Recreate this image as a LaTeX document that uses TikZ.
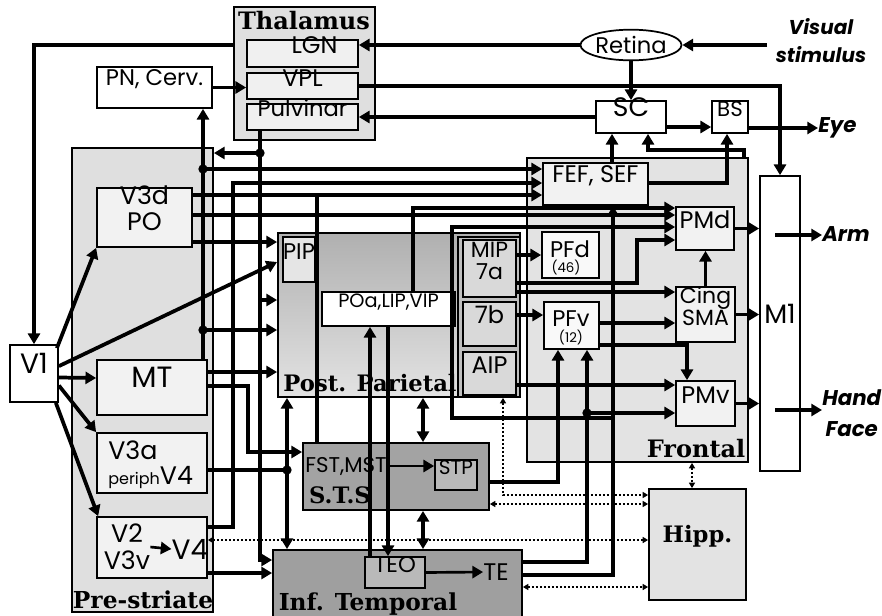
\documentclass[tikz,border=0pt]{standalone}
\usepackage{fontspec}
\setmainfont{Poppins}
\newfontfamily\slab{DejaVu Serif}
\usetikzlibrary{fit,arrows.meta,calc,shapes.geometric}
\newcommand\fs[1]{\fontsize{#1}{#1}\selectfont}
\tikzset{
 bx/.style={draw, line width=1.3pt, inner sep=0pt, align=center, fill=gray!10, font=\fontsize{20}{21}\selectfont},
 reg/.style={draw, line width=1.4pt, inner sep=0pt, fill=gray!25},
 ln/.style={line width=2.8pt},
 ar/.style={ln, -{Triangle[length=8pt,width=9pt]}},
 dar/.style={ln, {Triangle[length=8pt,width=9pt]}-{Triangle[length=8pt,width=9pt]}},
 dotl/.style={line width=1.2pt, dash pattern=on 1.5pt off 1.5pt, {Triangle[length=4pt,width=4.5pt]}-{Triangle[length=4pt,width=4.5pt]}},
 lab/.style={font=\slab\bfseries\fontsize{17.5}{18}\selectfont, inner sep=0pt},
 outl/.style={font=\bfseries\itshape\fontsize{15}{21}\selectfont, inner sep=0pt, align=center},
}
\begin{document}
\begin{tikzpicture}[x=0.75pt,y=-0.75pt]
\useasboundingbox (0,0) rectangle (882,615);
\fill[white] (0,0) rectangle (882,615);
% regions
\node[reg, fit={(72,148)(213,612)}] (pre) {};
\node[reg, fit={(234,7)(375,140)}] (thal) {};
\node[reg, fill=gray!22, fit={(527,158)(748,462)}] (front) {};
\node[reg, top color=gray!62, bottom color=gray!22, fit={(278,233)(520,397)}] (pp) {};
\node[reg, fill=gray!50, line width=1pt, fit={(458,237)(520,397)}] (col7) {};
\node[reg, fill=gray!72, fit={(303,443)(489,510)}] (sts) {};
\node[reg, fill=gray!75, fit={(273,550)(522,618)}] (it) {};
\node[reg, fill=gray!22, fit={(649,489)(746,600)}, font=\slab\bfseries\fs{17}] (hipp) {Hipp.};
\node[bx, fill=white, fit={(760,176)(800,471)}] (m1) {M1};
% labels
\node[lab, font=\slab\bfseries\fs{18}] (thl) at (304,21) {Thalamus};
\node[lab] (prl) at (143,600) {Pre-striate};
\node[lab, font=\slab\bfseries\fs{17}] (ppl) at (370,383) {Post. Parietal};
\node[lab, font=\slab\bfseries\fs{18}] (frl) at (696,449) {Frontal};
\node[lab, font=\slab\bfseries\fs{17}] (stsl) at (340,495) {S.T.S};
\node[lab] (itl) at (368,604) {Inf. Temporal};
\node[outl] (vs) at (821,41) {Visual\\stimulus};
\node[outl, anchor=west, font=\bfseries\itshape\fs{16}] (eye) at (818,128) {Eye};
\node[outl, anchor=west, font=\bfseries\itshape\fs{16}] (arm) at (822,234) {Arm};
\node[outl, anchor=west, font=\bfseries\itshape\fontsize{16}{23}\selectfont] (hand) at (822,413) {Hand\\Face};
\coordinate (vsa) at (767,45);
\coordinate (m1a) at (775,235);
\coordinate (m1b) at (775,410);
% boxes
\node[bx, fill=white, font=\fs{17}, fit={(97,67)(212,108)}] (pn) {PN, Cerv.};
\node[bx, fill=gray!12, font=\fs{18}, fit={(247,40)(358,67)}] (lgn) {\quad LGN};
\node[bx, fill=gray!12, font=\fs{18}, fit={(247,73)(358,99)}] (vpl) {VPL};
\node[bx, fill=gray!12, font=\fs{17}, fit={(247,104)(358,130)}] (pulv) {Pulvinar};
\node[draw, line width=1.3pt, ellipse, fill=white, minimum width=74pt, minimum height=23pt, inner sep=0pt, font=\fs{17}] (retina) at (631,45) {Retina};
\node[bx, fill=white, fit={(596,101)(666,133)}] (sc) {SC};
\node[bx, fill=white, font=\fs{16}, fit={(712,101)(748,133)}] (bs) {BS};
\node[bx, font=\fs{18}, fit={(543,163)(648,205)}] (fef) {FEF, SEF};
\node[bx, font=\fs{18}, fit={(676,207)(734,250)}] (pmd) {PMd};
\node[bx, font=\fontsize{16.5}{16}\selectfont, fit={(676,287)(735,342)}] (cing) {Cing\\SMA};
\node[bx, font=\fs{18}, fit={(676,381)(735,426)}] (pmv) {PMv};
\node[bx, fill=gray!5, fit={(542,232)(599,278)}] (pfd) {};
\node[bx, fill=gray!5, fit={(544,302)(599,349)}] (pfv) {};
\node[inner sep=0pt, font=\fs{17}] (pfdt) at (570,249) {PFd};
\node[inner sep=0pt, font=\fs{10}] (pfdn) at (566,268) {(46)};
\node[inner sep=0pt, font=\fs{17}] (pfvt) at (571,319) {PFv};
\node[inner sep=0pt, font=\fs{10}] (pfvn) at (571,338) {(12)};
\node[bx, fill=gray!20, line width=0.8pt, font=\fs{17}, fit={(283,237)(315,282)}] (pip) {PIP};
\node[bx, fill=white, font=\fs{14.5}, fit={(322,292)(455,326)}] (poa) {POa,LIP,VIP};
\node[bx, fill=gray!30, font=\fontsize{16.5}{17}\selectfont, fit={(463,240)(516,297)}] (mip) {MIP\\7a};
\node[bx, fill=gray!30, font=\fs{18}, fit={(463,302)(516,346)}] (b7) {7b};
\node[bx, fill=gray!30, font=\fs{18}, fit={(463,352)(516,395)}] (aip) {AIP};
\node[bx, font=\fontsize{19}{20}\selectfont, fit={(97,188)(192,247)}] (v3d) {V3d\\PO};
\node[bx, font=\fs{22}, fit={(97,360)(207,415)}] (mt) {MT};
\node[bx, fit={(97,433)(207,493)}] (v3a) {};
\node[inner sep=0pt, font=\fs{19}, anchor=west] (v3at) at (108,450) {V3a};
\node[inner sep=0pt, font=\fs{19}, anchor=west] (v4p) at (108,478) {{\fs{12}periph}V4};
\node[bx, fit={(97,517)(207,578)}] (v2) {};
\node[bx, fill=white, font=\fs{21}, fit={(10,345)(58,402)}] (v1) {V1};
\node[bx, fill=gray!55, font=\fs{15}, fit={(435,460)(477,490)}] (stp) {STP};
\node[bx, fill=gray!55, font=\fs{17}, fit={(365,557)(425,588)}] (teo) {TEO};
\node[inner sep=0pt, font=\fs{16}] (fst) at (346,466) {FST,MST};
\node[inner sep=0pt, font=\fs{18}] (te) at (496,572) {TE};
\node[inner sep=0pt, align=center, font=\fontsize{19}{20}\selectfont] (v2t) at (127,547) {V2\\V3v};
\node[inner sep=0pt, font=\fs{21}] (v4t) at (190,549) {V4};
% thalamus, retina, SC
\draw[ar] (thal.west |- 0,45) -| (v1.north);
\draw[ar] (retina.west) -- (lgn.east |- retina.west);
\draw[ar] (vsa) -- (retina.east);
\draw[ar] (retina.south) -- (sc.north);
\draw[ar] (vpl.east) -| (m1.north);
\draw[ar] (sc.west) -- (pulv.east |- sc.west);
\draw[ar] (pn.east) -- (vpl.west |- pn.east);
\draw[ar] (sc.east |- 0,127) -- (bs.west |- 0,127);
\draw[ar] (bs.east |- 0,128) -- (eye.west);
\draw[ar] (fef.north -| 612,0) -- (sc.south -| 612,0);
\draw[ar] (fef.east |- 0,183) -| (bs.south -| 727,0);
\draw[ar] (front.north -| 744,0) |- (648,150) -- (sc.south -| 648,0);
% V1
\draw[ar] ($(v1.north east)+(-2,4)$) -- (v3d.south west);
\draw[ar] ($(v1.north east)+(0,22)$) -- (pp.west |- 0,262);
\draw[ar] ($(v1.east)+(0,4)$) -- (mt.west |- 0,378);
\draw[ar] ($(v1.east)+(0,12)$) -- (v3a.north west);
\draw[ar] ($(v1.south east)+(-3,0)$) -- ($(v2.north west)+(2,0)$);
% V3d
\draw[ar] (v3d.east |- 0,195) -- (fef.west |- 0,195);
\draw[ar] (v3d.east |- 0,215) -- (pmd.west |- 0,215);
\draw[ar] (v3d.east |- 0,242) -- (pp.west |- 0,242);
% MT
\draw[ar] (mt.north -| 203,0) -- (pn.south -| 203,0);
\draw[ar] (203,169) -- (fef.west |- 0,169);
\draw[ar] (203,330) -- (pp.west |- 0,330);
\draw[ar] (mt.east |- 0,372) -- (pp.west |- 0,372);
\draw[ar] (mt.east |- 0,386) -- (248,386) |- (sts.west |- 0,452);
% V3a
\draw[ln] (v3a.east |- 0,470) -- (287,470);
\draw[ar] (287,470) -- (pp.south -| 287,0);
\draw[ar] (287,470) -- (it.north -| 287,0);
% V2/V4
\draw[ar] (v2.east |- 0,527) -- (233,527) |- (fef.west |- 0,183);
\draw[ar] (v2.east |- 0,573) -- (it.west |- 0,573);
\draw[dotl] (v2.east |- 0,540) -- (hipp.west |- 0,540);
\draw[ar, line width=2pt] (v2t.east) -- (v4t.west);
% Pulvinar
\draw[ln] (pulv.south -| 260,0) -- (260,153);
\draw[ar] (260,153) -- (pre.east |- 0,153);
\draw[ar] (pulv.south -| 260,0) |- (it.west |- 0,560);
\draw[ar] (260,300) -- (pp.west |- 0,300);
% PP / STS / IT
\draw[dar] (pp.south -| 423,0) -- (sts.north -| 423,0);
\draw[dar] (sts.south -| 423,0) -- (it.north -| 423,0);
\draw[ln] (sts.north -| 317,0) -- (317,195);
\draw[ar] (teo.north -| 370,0) -- (poa.south -| 370,0);
\draw[ar] (poa.south -| 388,0) -- (teo.north -| 388,0);
\draw[ar] (poa.north -| 413,0) |- (pmd.west |- 0,208);
\draw[ar] (613,418) -| (452,227) -- (pmd.west |- 0,227);
\draw[ar, line width=2pt] (fst.east) -- (stp.west |- fst.east);
\draw[ar, line width=2pt] (teo.east) -- (te.west);
% parietal to frontal
\draw[ar] (mip.east |- 0,255) -- (pfd.west |- 0,255);
\draw[ar] (b7.east |- 0,315) -- (pfv.west |- 0,315);
\draw[ar] (mip.east |- 0,283) -| (637,240) -- (pmd.west |- 0,240);
\draw[ar] (mip.east |- 0,292) -- (cing.west |- 0,292);
\draw[ar] (aip.east |- 0,385) -- (pmv.west |- 0,385);
% frontal internal
\draw[ar] (pfv.east |- 0,323) -- (cing.west |- 0,323);
\draw[ar] (pfv.east |- 0,345) -| (pmv.north -| 687,0);
\draw[ar] (cing.north) -- (pmd.south -| cing.north);
\draw[ar] (pmd.east) -- (m1.west |- pmd.east);
\draw[ar] (cing.east) -- (m1.west |- cing.east);
\draw[ar] (pmv.east) -- (m1.west |- pmv.east);
\draw[ar] (m1a) -- (arm.west |- m1a);
\draw[ar] (m1b) -- (hand.west |- m1b);
% temporal to frontal
\draw[ar] (sts.east |- 0,482) -| (pfv.south -| 558,0);
\draw[ar] (it.east |- 0,562) -| (pfv.south -| 587,0);
\draw[ar] (it.east |- 0,575) -| (fef.south -| 613,0);
\draw[ar] (587,413) -- (pmv.west |- 0,413);
% hippocampus
\draw[dotl] (pp.south -| 503,0) |- (hipp.west |- 0,495);
\draw[dotl] (sts.east |- 0,504) -- (hipp.west |- 0,504);
\draw[dotl] (it.east |- 0,587) -- (hipp.west |- 0,587);
\draw[dotl] (front.south -| 692,0) -- (hipp.north -| 692,0);
% junction dots
\foreach \p in {(203,169),(203,330),(260,153),(287,470),(587,413)} \fill \p circle (3.5pt);
\end{tikzpicture}
\end{document}
